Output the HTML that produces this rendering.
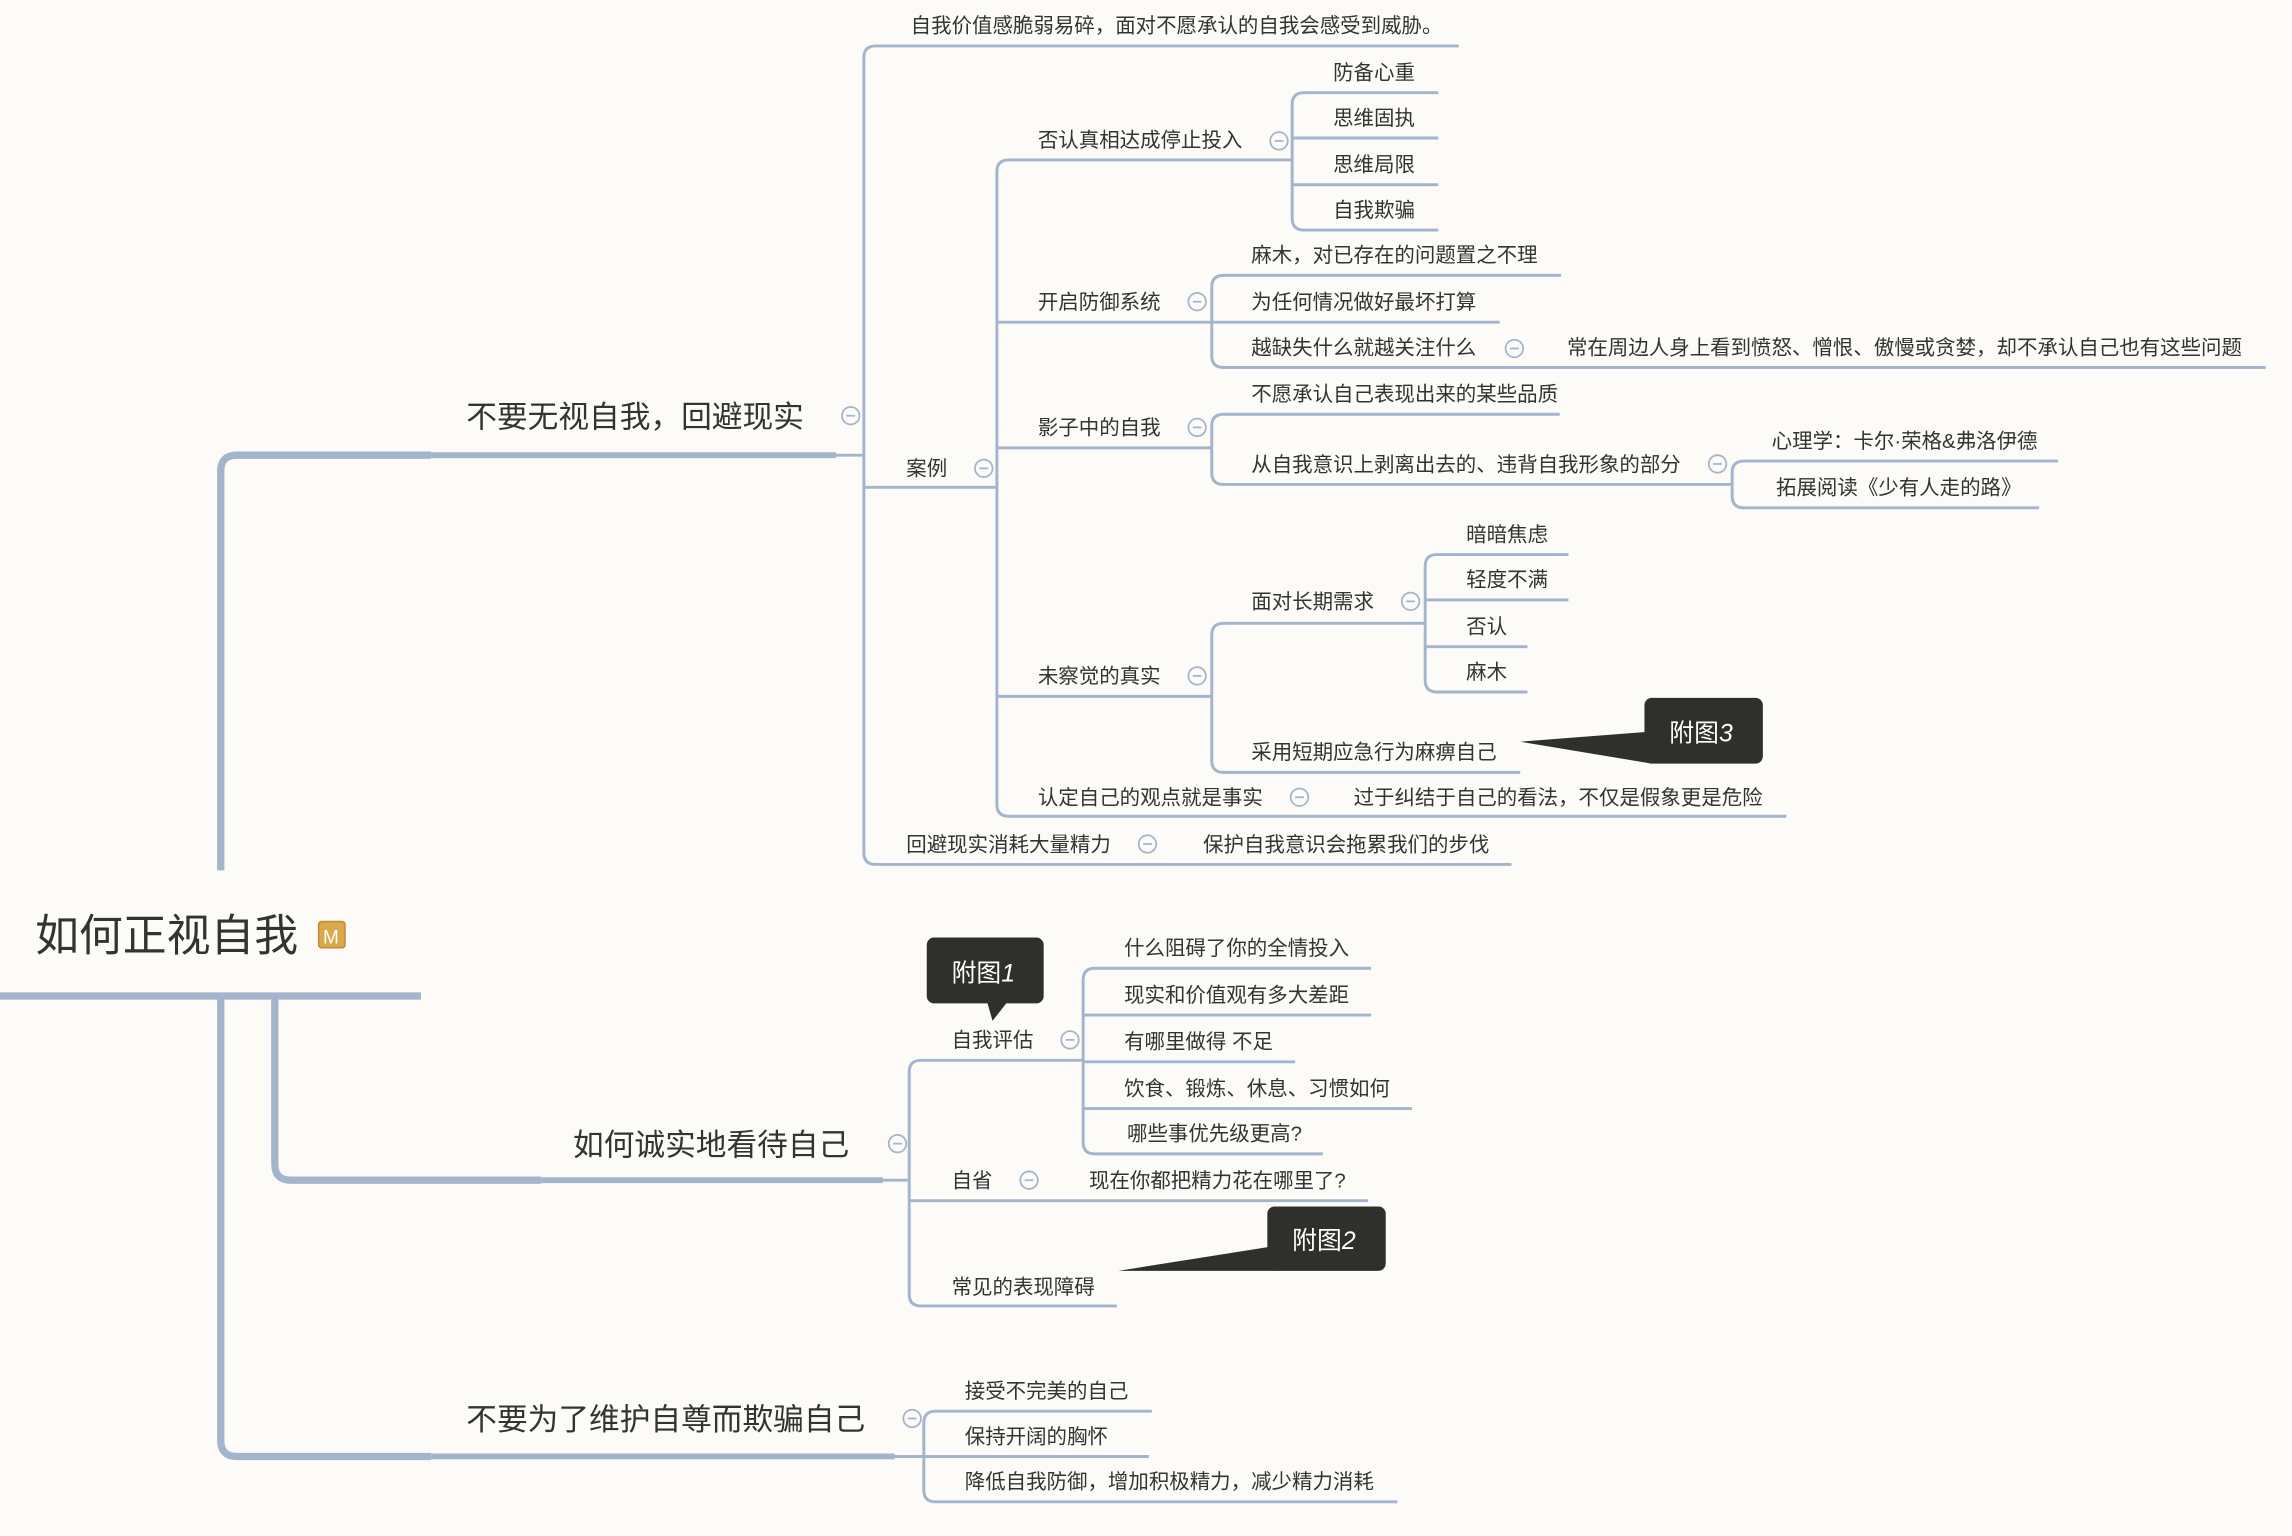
<!DOCTYPE html>
<html><head><meta charset="utf-8"><style>
html,body{margin:0;padding:0;background:#fdfbf7;}
svg{display:block}
text{font-family:"Liberation Sans","Noto Sans CJK SC",sans-serif;fill:#333;font-size:14px}
.b{font-size:21px}
.l{fill:none;stroke:#a3b5cd;stroke-width:2}
.t{fill:none;stroke:#a3b5cd;stroke-width:5}
.m{fill:none;stroke:#a3b5cd;stroke-width:4}
.c{fill:#fdfbf7;stroke:#a3b5cd;stroke-width:1.2}
.w{fill:#fff;font-size:17px}
</style></head><body>
<svg width="2292" height="1536" viewBox="0 0 1568 1050" xmlns="http://www.w3.org/2000/svg">
<defs><g id="cc"><circle r="6" class="c"/><line x1="-3" y1="0" x2="3" y2="0" stroke="#a3b5cd" stroke-width="1.2"/></g></defs>
<rect width="1568" height="1050" fill="#fdfbf7"/>
<text x="24" y="650" style="font-size:30px">如何正视自我</text>
<rect x="218" y="630" width="18" height="18" rx="2" fill="#d9a84a" stroke="#c08a30"/>
<text x="221" y="645" style="font-size:13px;fill:#fff">M</text>
<line x1="0" y1="681" x2="288" y2="681" class="t" stroke-width="6"/>
<path d="M151 595 V322 Q151 311 162 311 H295" class="t"/>
<line x1="295" y1="311" x2="572" y2="311" class="m"/>
<path d="M151 681 V985 Q151 996 162 996 H295" class="t"/>
<line x1="295" y1="996" x2="612" y2="996" class="m"/>
<path d="M188 681 V796 Q188 807 199 807 H370" class="t"/>
<line x1="370" y1="807" x2="604" y2="807" class="m"/>

<text x="319" y="292" class="b">不要无视自我，回避现实</text>
<use href="#cc" x="582" y="284"/>
<path d="M572 311 H591" class="l"/>
<path d="M998 31 H599 Q591 31 591 39 V583 Q591 591 599 591 H1034" class="l"/>
<text x="623" y="22">自我价值感脆弱易碎，面对不愿承认的自我会感受到威胁。</text>
<path d="M591 333 H682" class="l"/>
<text x="620" y="325">案例</text><use href="#cc" x="673" y="320"/>
<text x="620" y="582">回避现实消耗大量精力</text><use href="#cc" x="785" y="577"/>
<text x="823" y="582">保护自我意识会拖累我们的步伐</text>

<path d="M884 109 H690 Q682 109 682 117 V550 Q682 558 690 558 H1222" class="l"/>
<text x="710" y="100">否认真相达成停止投入</text><use href="#cc" x="875" y="96"/>
<path d="M984 63 H892 Q884 63 884 71 V149 Q884 157 892 157 H984 M884 94 H984 M884 126 H984" class="l"/>
<text x="912" y="54">防备心重</text><text x="912" y="85">思维固执</text><text x="912" y="117">思维局限</text><text x="912" y="148">自我欺骗</text>

<path d="M682 220 H829" class="l"/>
<text x="710" y="211">开启防御系统</text><use href="#cc" x="819" y="206"/>
<path d="M1068 188 H837 Q829 188 829 196 V243 Q829 251 837 251 H1550 M829 220 H1026" class="l"/>
<text x="856" y="179">麻木，对已存在的问题置之不理</text>
<text x="856" y="211">为任何情况做好最坏打算</text>
<text x="856" y="242">越缺失什么就越关注什么</text><use href="#cc" x="1036" y="238"/>
<text x="1072" y="242">常在周边人身上看到愤怒、憎恨、傲慢或贪婪，却不承认自己也有这些问题</text>

<path d="M682 306 H829" class="l"/>
<text x="710" y="297">影子中的自我</text><use href="#cc" x="819" y="292"/>
<path d="M1067 283 H837 Q829 283 829 291 V323 Q829 331 837 331 H1185" class="l"/>
<text x="856" y="274">不愿承认自己表现出来的某些品质</text>
<text x="856" y="322">从自我意识上剥离出去的、违背自我形象的部分</text><use href="#cc" x="1175" y="317"/>
<path d="M1408 315 H1193 Q1185 315 1185 323 V339 Q1185 347 1193 347 H1395" class="l"/>
<text x="1212" y="306">心理学：卡尔·荣格&amp;弗洛伊德</text>
<text x="1215" y="338">拓展阅读《少有人走的路》</text>

<path d="M682 476 H829" class="l"/>
<text x="710" y="467">未察觉的真实</text><use href="#cc" x="819" y="462"/>
<path d="M975 426 H837 Q829 426 829 434 V520 Q829 528 837 528 H1040" class="l"/>
<text x="856" y="416">面对长期需求</text><use href="#cc" x="965" y="411"/>
<path d="M1073 379 H983 Q975 379 975 387 V465 Q975 473 983 473 H1045 M975 410 H1073 M975 442 H1045" class="l"/>
<text x="1003" y="370">暗暗焦虑</text><text x="1003" y="401">轻度不满</text><text x="1003" y="433">否认</text><text x="1003" y="464">麻木</text>
<text x="856" y="519">采用短期应急行为麻痹自己</text>
<polygon points="1040,507 1130,500 1130,522" fill="#2f302c"/>
<rect x="1125" y="477" width="81" height="45" rx="5" fill="#2f302c"/>
<text x="1142" y="507" class="w">附图<tspan font-style="italic">3</tspan></text>

<text x="710" y="550">认定自己的观点就是事实</text><use href="#cc" x="889" y="545"/>
<text x="926" y="550">过于纠结于自己的看法，不仅是假象更是危险</text>

<text x="392" y="790" class="b">如何诚实地看待自己</text>
<use href="#cc" x="614" y="782"/>
<path d="M604 807 H622" class="l"/>
<path d="M741 725 H630 Q622 725 622 733 V885 Q622 893 630 893 H764 M622 821 H936" class="l"/>
<text x="651" y="716">自我评估</text><use href="#cc" x="732" y="711"/>
<path d="M938 662 H749 Q741 662 741 670 V781 Q741 789 749 789 H905 M741 694 H938 M741 726 H886 M741 758 H966" class="l"/>
<text x="769" y="653">什么阻碍了你的全情投入</text>
<text x="769" y="685">现实和价值观有多大差距</text>
<text x="769" y="717">有哪里做得 不足</text>
<text x="769" y="749">饮食、锻炼、休息、习惯如何</text>
<text x="771" y="780">哪些事优先级更高?</text>
<rect x="634" y="641" width="80" height="45" rx="5" fill="#2f302c"/>
<polygon points="675,684 690,684 679,698" fill="#2f302c"/>
<text x="651" y="671" class="w">附图<tspan font-style="italic">1</tspan></text>
<text x="651" y="812">自省</text><use href="#cc" x="704" y="807"/>
<text x="745" y="812">现在你都把精力花在哪里了?</text>
<text x="651" y="885">常见的表现障碍</text>
<polygon points="765,869 872,852 872,869" fill="#2f302c"/>
<rect x="867" y="825" width="81" height="44" rx="5" fill="#2f302c"/>
<text x="884" y="854" class="w">附图<tspan font-style="italic">2</tspan></text>

<text x="319" y="978" class="b">不要为了维护自尊而欺骗自己</text>
<use href="#cc" x="624" y="970"/>
<path d="M612 996 H632" class="l"/>
<path d="M788 965 H640 Q632 965 632 973 V1019 Q632 1027 640 1027 H956 M632 996 H786" class="l"/>
<text x="660" y="956">接受不完美的自己</text>
<text x="660" y="987">保持开阔的胸怀</text>
<text x="660" y="1018">降低自我防御，增加积极精力，减少精力消耗</text>
</svg>
</body></html>
